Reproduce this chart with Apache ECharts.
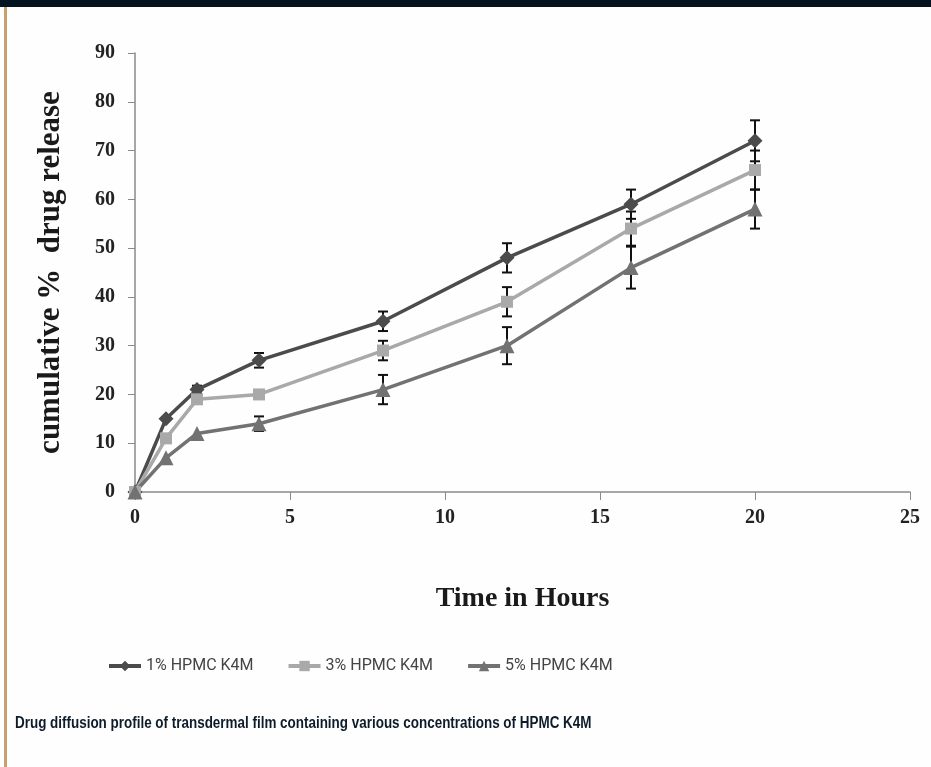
<!DOCTYPE html>
<html>
<head>
<meta charset="utf-8">
<script src="https://cdn.jsdelivr.net/npm/echarts@6/dist/echarts.min.js"></script>
<style>
  html, body { margin: 0; padding: 0; background: #fefefe; }
  #chart { width: 931px; height: 767px; }
</style>
</head>
<body>
<div id="chart"></div>
<script>
// time points (hours)
const hours = [0, 1, 2, 4, 8, 12, 16, 20];
// cumulative % drug release
const hpmc1 = [0, 15, 21, 27, 35, 48, 59, 72];
const hpmc3 = [0, 11, 19, 20, 29, 39, 54, 66];
const hpmc5 = [0, 7, 12, 14, 21, 30, 46, 58];
// error bar half widths (SD)
const err1 = [0, 0, 0.8, 1.5, 2, 3, 3, 4.2];
const err3 = [0, 0, 0, 0.8, 2, 3, 3.5, 4];
const err5 = [0, 0, 0, 1.5, 3, 3.8, 4.3, 4];
const seriesNames = ['1% HPMC K4M', '3% HPMC K4M', '5% HPMC K4M'];
const yTicks = [0, 10, 20, 30, 40, 50, 60, 70, 80, 90];
const xTicks = [0, 5, 10, 15, 20, 25];
const caption = 'Drug diffusion profile of transdermal film containing various concentrations of HPMC K4M';

let chartDom = document.getElementById('chart');
let chart = echarts.init(chartDom);

const colors = ['#4b4b4b', '#a9a9a9', '#727272'];
const symbols = ['diamond', 'rect', 'triangle'];
const symbolSizes = [15, 12, 15];

function pairs(vals) {
    return hours.map((h, i) => [h, vals[i]]);
}
function errData(vals, errs) {
    return hours.map((h, i) => [h, vals[i] - errs[i], vals[i] + errs[i]]);
}

function renderErr(params, api) {
    if (api.value(2) - api.value(1) <= 0) return;
    const lo = api.coord([api.value(0), api.value(1)]);
    const hi = api.coord([api.value(0), api.value(2)]);
    const w = 5;
    const style = { stroke: '#111', lineWidth: 2 };
    return {
        type: 'group',
        children: [
            { type: 'line', shape: { x1: hi[0], y1: hi[1], x2: lo[0], y2: lo[1] }, style: style },
            { type: 'line', shape: { x1: hi[0] - w, y1: hi[1], x2: hi[0] + w, y2: hi[1] }, style: style },
            { type: 'line', shape: { x1: lo[0] - w, y1: lo[1], x2: lo[0] + w, y2: lo[1] }, style: style }
        ]
    };
}

const lineVals = [hpmc1, hpmc3, hpmc5];
const errVals = [err1, err3, err5];

let series = [];
lineVals.forEach((vals, k) => {
    series.push({
        name: seriesNames[k] + ' err',
        type: 'custom',
        renderItem: renderErr,
        data: errData(vals, errVals[k]),
        z: 1,
        silent: true
    });
});
lineVals.forEach((vals, k) => {
    series.push({
        name: seriesNames[k],
        type: 'line',
        data: pairs(vals),
        symbol: symbols[k],
        symbolSize: symbolSizes[k],
        lineStyle: { color: colors[k], width: 3.5 },
        itemStyle: { color: colors[k] },
        z: 3
    });
});

var option = {
    backgroundColor: '#fefefe',
    animation: false,
    legend: {
        data: seriesNames,
        left: 102,
        top: 653,
        itemWidth: 32,
        itemHeight: 13,
        itemGap: 33,
        lineStyle: { width: 4 },
        textStyle: {
            fontFamily: 'Roboto, sans-serif',
            fontSize: 16,
            color: '#444'
        }
    },
    grid: {
        left: 135,
        right: 21,
        top: 53,
        bottom: 275,
        containLabel: false
    },
    xAxis: {
        type: 'value',
        min: 0,
        max: 25,
        interval: 5,
        name: 'Time in Hours',
        nameLocation: 'middle',
        nameGap: 93,
        nameTextStyle: {
            fontFamily: '"Liberation Serif", "Times New Roman", serif',
            fontWeight: 'bold',
            fontSize: 28,
            color: '#1a1a1a'
        },
        axisLine: { lineStyle: { color: '#8a8a8a', width: 1.5 } },
        axisTick: { show: true, length: 8, lineStyle: { color: '#8a8a8a' } },
        axisLabel: {
            margin: 16,
            fontFamily: '"Liberation Serif", "Times New Roman", serif',
            fontWeight: 'bold',
            fontSize: 20,
            color: '#222',
            formatter: v => xTicks.includes(v) ? String(v) : ''
        },
        splitLine: { show: false }
    },
    yAxis: {
        type: 'value',
        min: 0,
        max: 90,
        interval: 10,
        name: 'cumulative %  drug release',
        nameLocation: 'middle',
        nameGap: 69,
        nameRotate: 90,
        nameTextStyle: {
            fontFamily: '"Liberation Serif", "Times New Roman", serif',
            fontWeight: 'bold',
            fontSize: 31,
            color: '#1a1a1a'
        },
        axisLine: { show: true, lineStyle: { color: '#8a8a8a', width: 1.5 } },
        axisTick: { show: true, length: 7, lineStyle: { color: '#8a8a8a' } },
        axisLabel: {
            margin: 20,
            fontFamily: '"Liberation Serif", "Times New Roman", serif',
            fontWeight: 'bold',
            fontSize: 20,
            color: '#222',
            formatter: v => yTicks.includes(v) ? String(v) : ''
        },
        splitLine: { show: false }
    },
    graphic: [
        { type: 'rect', left: 0, top: 0, shape: { width: 931, height: 7 }, style: { fill: '#03131f' }, silent: true },
        { type: 'rect', left: 4, top: 7, shape: { width: 3, height: 760 }, style: { fill: '#c9a06c' }, silent: true },
        {
            type: 'text',
            x: 15,
            y: 716,
            scaleX: 0.84,
            style: {
                text: caption,
                font: 'bold 16px "Liberation Sans", Arial, sans-serif',
                fill: '#0d1b2a'
            },
            silent: true
        }
    ],
    series: series
};
chart.setOption(option);
</script>
</body>
</html>
